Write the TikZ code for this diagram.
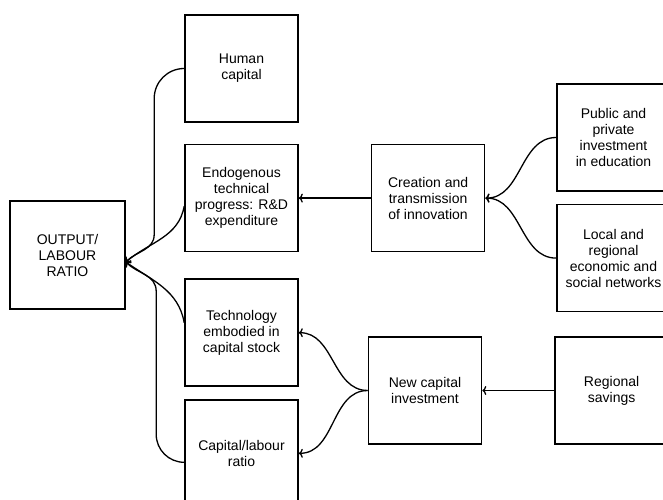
\documentclass[tikz,border=0pt]{standalone}
\usepackage{fontspec}
\setmainfont{Liberation Sans}
\usepackage{tikz}
\usetikzlibrary{positioning}
\usetikzlibrary{arrows.meta}

\begin{document}
\begin{tikzpicture}[x=1pt,y=1pt]
    \tikzset{box/.style={shape=rectangle,draw,line width=1.6pt,minimum width=113pt,minimum height=107pt,align=center,font=\fontsize{14}{16}\selectfont}}
    \tikzset{link/.style = {->,> = {To[length=4pt,width=9pt]},line width=1.3pt}}
    \useasboundingbox (0,0) rectangle (663,499);
    \clip (0,0) rectangle (663,499);

    \node[box,minimum width=115pt,minimum height=108pt] (out) at (67.5,244) {OUTPUT/\\LABOUR\\RATIO};
    \node[box] (hum) at (241.5,430.5) {Human\\capital};
    \node[box] (endo) [below=21pt of hum] {Endogenous\\technical\\progress: R\&D\\expenditure};
    \node[box] (tech) [below=26pt of endo] {Technology\\embodied in\\capital stock};
    \node[box] (cap) [below=12pt of tech] {Capital/labour\\ratio};
    \node[box] (crea) [right=72pt of endo] {Creation and\\transmission\\of innovation};
    \node[box] (newc) at (425,108.5) {New capital\\investment};
    \node[box] (pub) at (613.5,361.5) {Public and\\private\\investment\\in education};
    \node[box] (loc) [below=12pt of pub] {Local and\\regional\\economic and\\social networks};
    \node[box] (sav) [right=72pt of newc] {Regional\\savings};
    \coordinate (hub) at ([yshift=-7pt]out.east);

    \draw[link] (crea) -- (endo);
    \draw[link] (pub.west) to[out=180,in=0] (crea.east);
    \draw[link] (loc.west) to[out=180,in=0] (crea.east);
    \draw[link] (sav) -- (newc);
    \draw[link] (newc.west) to[out=180,in=0] (tech.east);
    \draw[link] (newc.west) to[out=180,in=0] (cap.east);

    \draw[link] (hum.west) to[out=180,in=90] ++(-30,-30) -- ++(0,-136) to[out=-90,in=45] (hub);
    \draw[link] ([yshift=-8pt]endo.west) to[out=260,in=40] (hub);
    \draw[link] ([yshift=10pt]tech.west) to[out=100,in=-35] (hub);
    \draw[link] ([yshift=-9pt]cap.west) to[out=180,in=-90] ++(-28,28) -- ++(0,143) to[out=90,in=-45] (hub);
  \end{tikzpicture}
\end{document}
